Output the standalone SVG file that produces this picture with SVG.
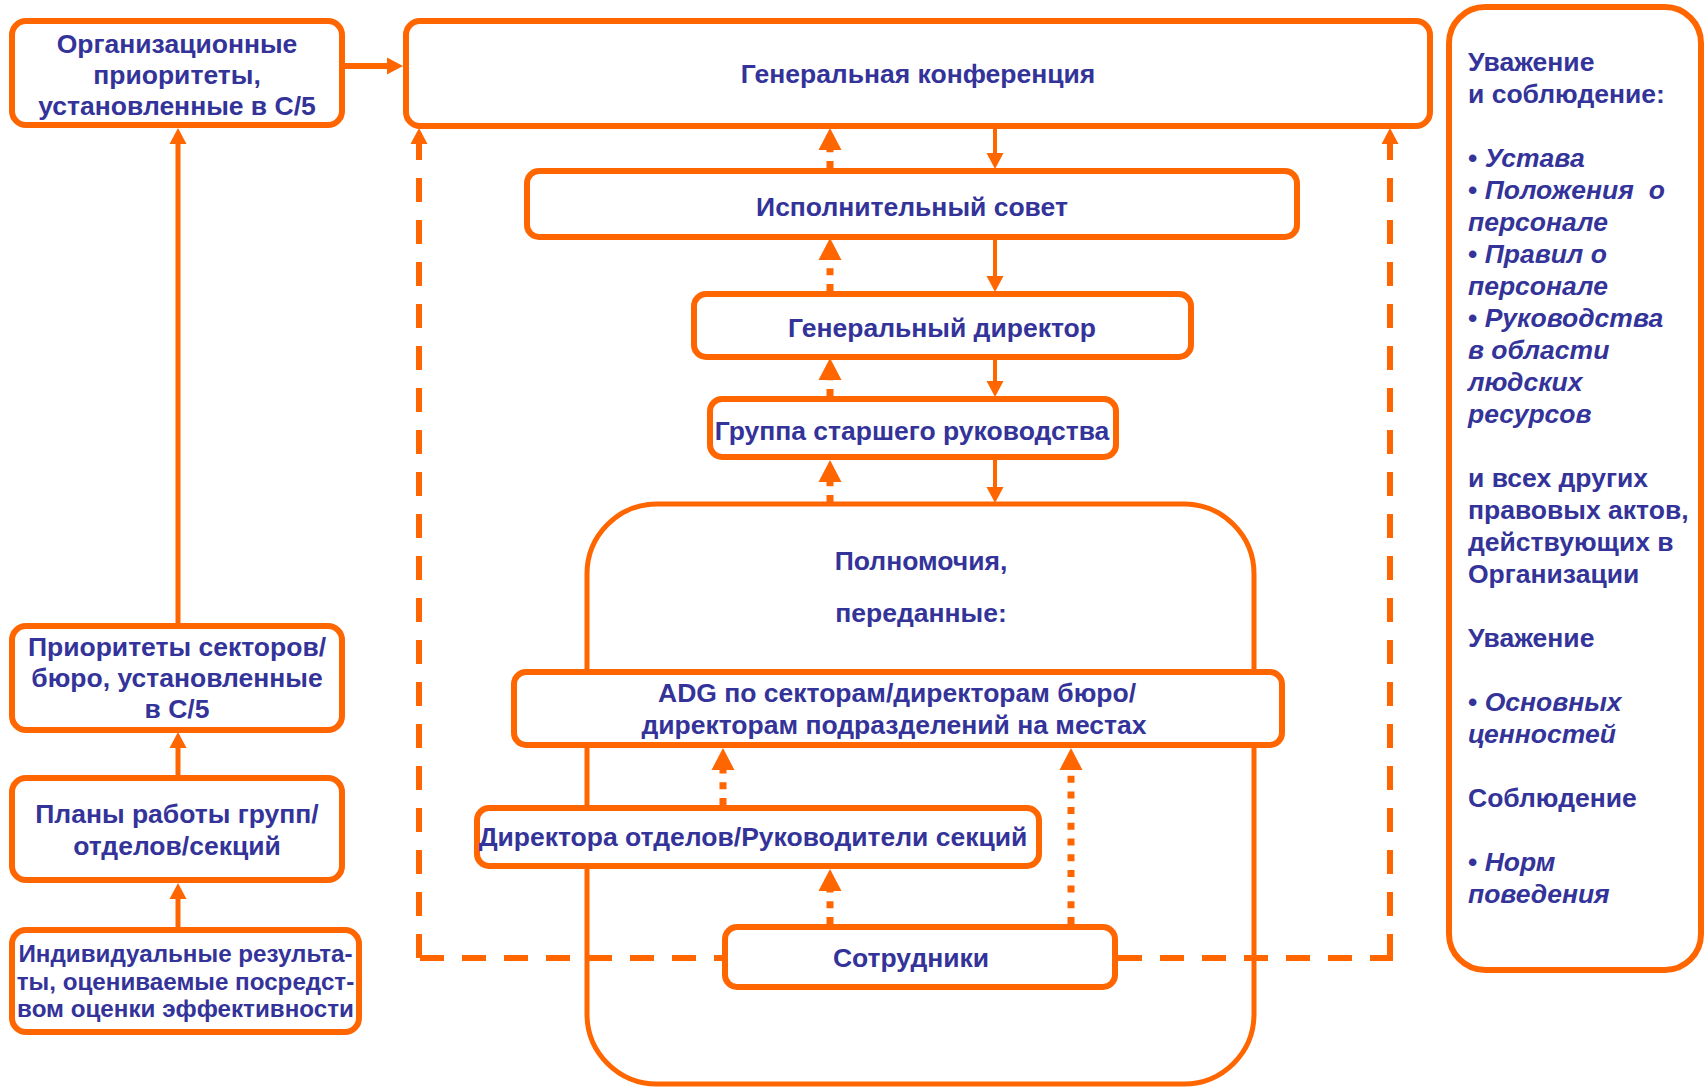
<svg xmlns="http://www.w3.org/2000/svg" width="1707" height="1089" viewBox="0 0 1707 1089">
<style>
.box{fill:#fff;stroke:#FF6600;stroke-width:6}
.t{font-family:"Liberation Sans",Arial,sans-serif;font-weight:bold;font-size:26.5px;fill:#333399}
.c{text-anchor:middle}
.i{font-style:italic}
.ln{fill:none;stroke:#FF6600}
.solid{stroke-width:5}
.thin{stroke-width:4}
.dot{stroke-width:7;stroke-dasharray:7 8.7}
.dash{stroke-width:6;stroke-dasharray:24 18}
</style>
<defs>
<marker id="ah" markerUnits="userSpaceOnUse" markerWidth="17" markerHeight="18" refX="0" refY="8.5" orient="auto" overflow="visible">
<path d="M0,0 L16,8.5 L0,17 Z" fill="#FF6600"/>
</marker>
<marker id="ahb" markerUnits="userSpaceOnUse" markerWidth="22" markerHeight="24" refX="0" refY="11.5" orient="auto" overflow="visible">
<path d="M0,0 L22,11.5 L0,23 Z" fill="#FF6600"/>
</marker>
</defs>
<rect width="1707" height="1089" fill="#fff"/>

<g id="node-polnomochiya">
<rect x="587" y="504" width="667" height="580" rx="70" fill="#fff" stroke="#FF6600" stroke-width="5"/>
<text class="t c" x="921" y="570">Полномочия,</text>
<text class="t c" x="921" y="622">переданные:</text>
</g>

<g id="connectors">
<path class="ln" style="stroke-width:6" d="M345,66 H387" marker-end="url(#ah)"/>
<path class="ln solid" d="M178,623 V144" marker-end="url(#ah)"/>
<path class="ln solid" d="M178,775 V748" marker-end="url(#ah)"/>
<path class="ln solid" d="M178,927 V899" marker-end="url(#ah)"/>

<path class="ln dot" d="M830,168 V150" marker-end="url(#ahb)"/>
<path class="ln thin" d="M995,128 V153" marker-end="url(#ah)"/>
<path class="ln dot" d="M830,291 V260" marker-end="url(#ahb)"/>
<path class="ln thin" d="M995,239 V276" marker-end="url(#ah)"/>
<path class="ln dot" d="M830,396 V380" marker-end="url(#ahb)"/>
<path class="ln thin" d="M995,359 V381" marker-end="url(#ah)"/>
<path class="ln dot" d="M830,502 V482" marker-end="url(#ahb)"/>
<path class="ln thin" d="M995,459 V487" marker-end="url(#ah)"/>

<path class="ln dot" d="M723,805 V770" marker-end="url(#ahb)"/>
<path class="ln dot" d="M830,924 V891" marker-end="url(#ahb)"/>
<path class="ln dot" d="M1071,924 V770" marker-end="url(#ahb)"/>

<path class="ln dash" style="stroke-dashoffset:16" d="M722,958 H416"/>
<path class="ln dash" d="M419,958 V144" marker-end="url(#ah)"/>
<path class="ln dash" d="M1118,958 H1393"/>
<path class="ln dash" d="M1390,958 V144" marker-end="url(#ah)"/>
</g>

<g id="node-org">
<rect class="box" x="12" y="21" width="330" height="104" rx="14"/>
<text class="t c" x="177" y="53">Организационные</text>
<text class="t c" x="177" y="84">приоритеты,</text>
<text class="t c" x="177" y="115">установленные в С/5</text>
</g>

<g id="node-sectors">
<rect class="box" x="12" y="626" width="330" height="104" rx="14"/>
<text class="t c" x="177" y="656">Приоритеты секторов/</text>
<text class="t c" x="177" y="687">бюро, установленные</text>
<text class="t c" x="177" y="718">в С/5</text>
</g>

<g id="node-plans">
<rect class="box" x="12" y="778" width="330" height="102" rx="14"/>
<text class="t c" x="177" y="823">Планы работы групп/</text>
<text class="t c" x="177" y="855">отделов/секций</text>
</g>

<g id="node-individual">
<rect class="box" x="12" y="930" width="347" height="102" rx="14"/>
<text class="t c" style="font-size:24.2px" x="185.5" y="962">Индивидуальные результа-</text>
<text class="t c" style="font-size:24.2px" x="185.5" y="990">ты, оцениваемые посредст-</text>
<text class="t c" style="font-size:24.2px" x="185.5" y="1017">вом оценки эффективности</text>
</g>

<g id="node-gc">
<rect class="box" x="406" y="21" width="1024" height="105" rx="14"/>
<text class="t c" x="918" y="83">Генеральная конференция</text>
</g>

<g id="node-ec">
<rect class="box" x="527" y="171" width="770" height="66" rx="12"/>
<text class="t c" x="912" y="216">Исполнительный совет</text>
</g>

<g id="node-dg">
<rect class="box" x="694" y="294" width="497" height="63" rx="12"/>
<text class="t c" x="942" y="337">Генеральный директор</text>
</g>

<g id="node-smt">
<rect class="box" x="710" y="399" width="406" height="58" rx="12"/>
<text class="t c" x="912" y="440">Группа старшего руководства</text>
</g>

<g id="node-adg">
<rect class="box" x="514" y="672" width="768" height="73" rx="12"/>
<text class="t c" x="897" y="702">ADG по секторам/директорам бюро/</text>
<text class="t c" x="894" y="734">директорам подразделений на местах</text>
</g>

<g id="node-directors">
<rect class="box" x="477" y="808" width="562" height="58" rx="12"/>
<text class="t c" x="753" y="846">Директора отделов/Руководители секций</text>
</g>

<g id="node-staff">
<rect class="box" x="725" y="927" width="390" height="60" rx="12"/>
<text class="t c" x="911" y="967">Сотрудники</text>
</g>

<g id="node-respect">
<rect class="box" x="1449" y="7" width="252" height="963" rx="36"/>
<text class="t" x="1468" y="71">Уважение</text>
<text class="t" x="1468" y="103">и соблюдение:</text>
<text class="t" x="1468" y="167">• <tspan class="i">Устава</tspan></text>
<text class="t" x="1468" y="199" xml:space="preserve">• <tspan class="i">Положения  о</tspan></text>
<text class="t i" x="1468" y="231">персонале</text>
<text class="t" x="1468" y="263">• <tspan class="i">Правил о</tspan></text>
<text class="t i" x="1468" y="295">персонале</text>
<text class="t" x="1468" y="327">• <tspan class="i">Руководства</tspan></text>
<text class="t i" x="1468" y="359">в области</text>
<text class="t i" x="1468" y="391">людских</text>
<text class="t i" x="1468" y="423">ресурсов</text>
<text class="t" x="1468" y="487">и всех других</text>
<text class="t" x="1468" y="519">правовых актов,</text>
<text class="t" x="1468" y="551">действующих в</text>
<text class="t" x="1468" y="583">Организации</text>
<text class="t" x="1468" y="647">Уважение</text>
<text class="t" x="1468" y="711">• <tspan class="i">Основных</tspan></text>
<text class="t i" x="1468" y="743">ценностей</text>
<text class="t" x="1468" y="807">Соблюдение</text>
<text class="t" x="1468" y="871">• <tspan class="i">Норм</tspan></text>
<text class="t i" x="1468" y="903">поведения</text>
</g>
</svg>
